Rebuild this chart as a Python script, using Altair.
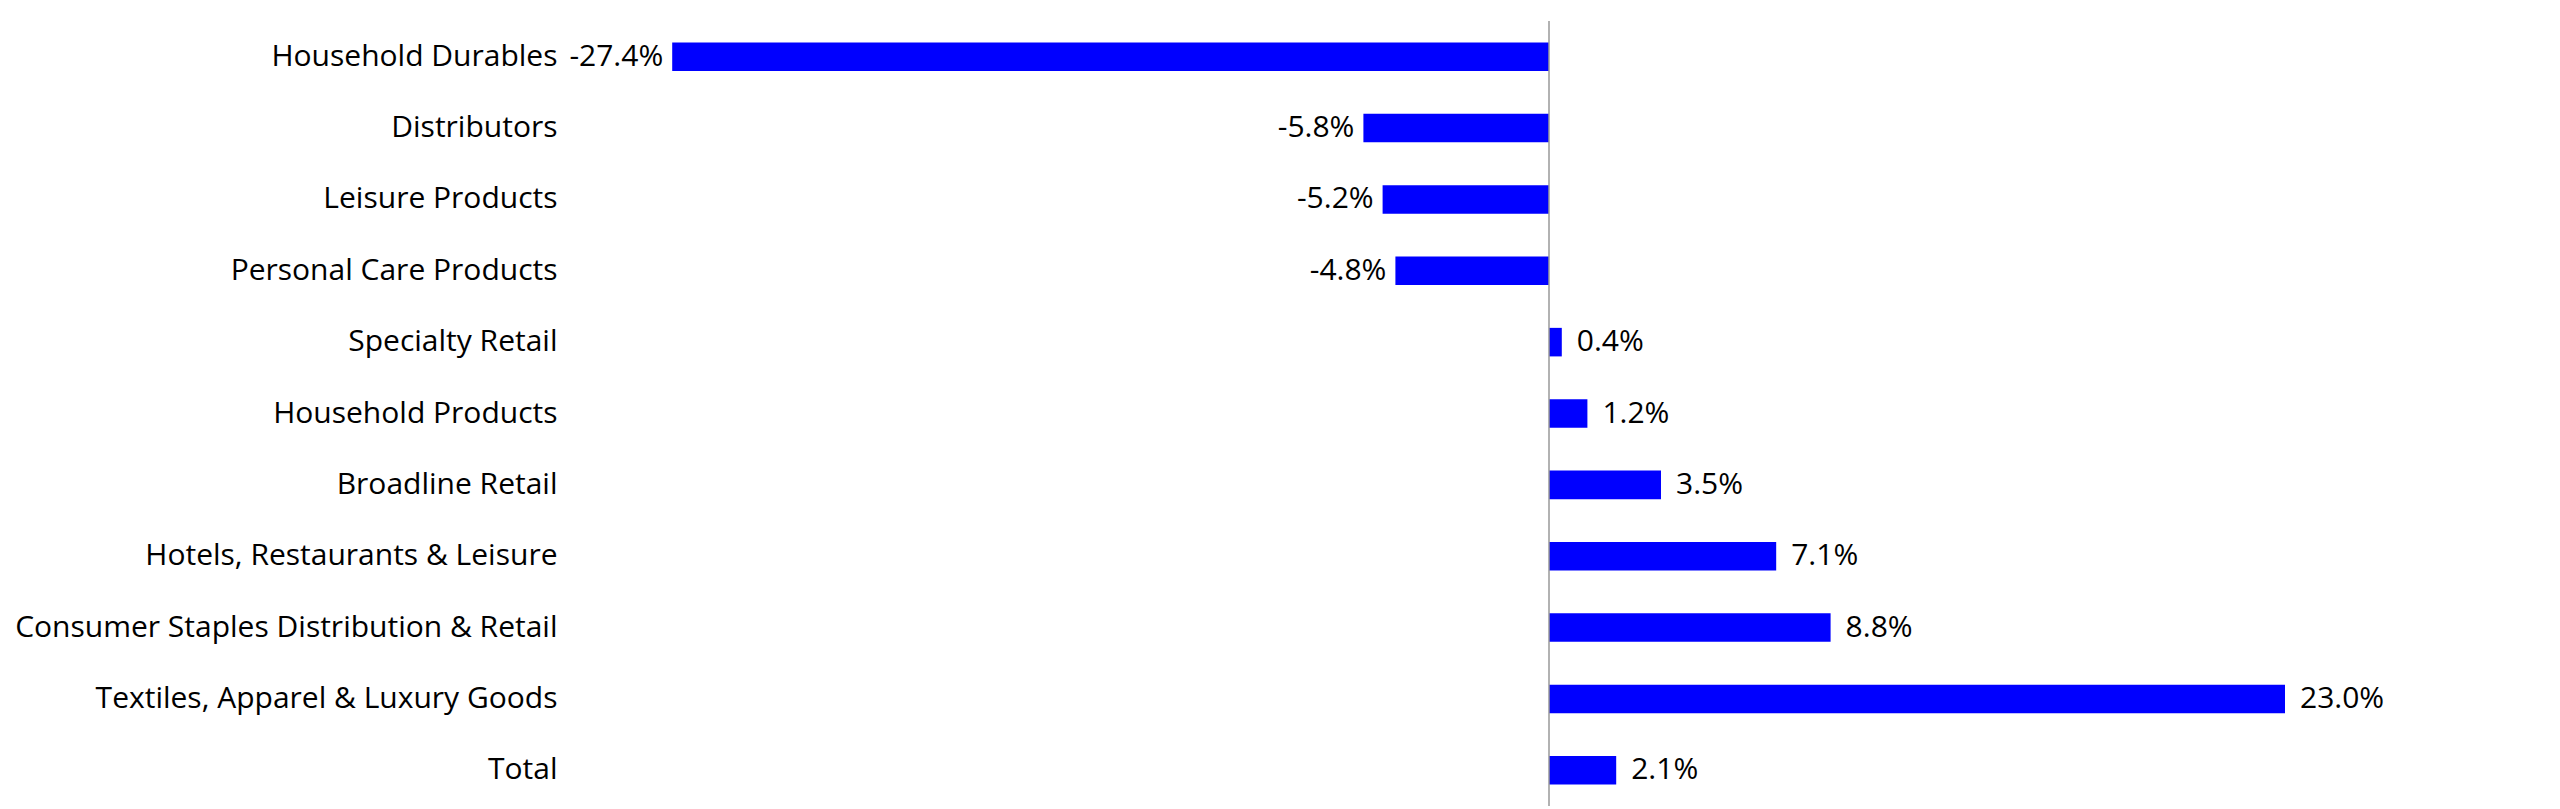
import altair as alt
import pandas as pd

categories = [
    "Household Durables",
    "Distributors",
    "Leisure Products",
    "Personal Care Products",
    "Specialty Retail",
    "Household Products",
    "Broadline Retail",
    "Hotels, Restaurants & Leisure",
    "Consumer Staples Distribution & Retail",
    "Textiles, Apparel & Luxury Goods",
    "Total",
]
values = [-27.4, -5.8, -5.2, -4.8, 0.4, 1.2, 3.5, 7.1, 8.8, 23.0, 2.1]
pos_labels = [f"{v:.1f}%" if v >= 0 else "" for v in values]
neg_labels = [f"{v:.1f}%" if v < 0 else "" for v in values]

df = pd.DataFrame({
    "category": categories,
    "value": values,
    "pos_label": pos_labels,
    "neg_label": neg_labels,
})

FONT = "Open Sans"
FS = 30

y_enc = alt.Y(
    "category:N",
    sort=None,
    title=None,
    scale=alt.Scale(paddingInner=0.6, paddingOuter=0.3),
    axis=alt.Axis(
        ticks=False,
        domain=False,
        labelFont=FONT,
        labelFontSize=FS,
        labelColor="#000000",
        labelPadding=32,
        labelLimit=800,
        grid=False,
    ),
)
x_enc = alt.X(
    "value:Q",
    title=None,
    scale=alt.Scale(domain=[-30, 30], nice=False),
    axis=None,
)

base = alt.Chart(df)

bars = base.mark_bar(color="#0000FF").encode(x=x_enc, y=y_enc)

pos_text = base.mark_text(
    align="left", baseline="middle", dx=15, font=FONT, fontSize=FS, color="#000000"
).encode(x=x_enc, y=y_enc, text="pos_label:N")

neg_text = base.mark_text(
    align="right", baseline="middle", dx=-9, font=FONT, fontSize=FS, color="#000000"
).encode(x=x_enc, y=y_enc, text="neg_label:N")

zero_rule = alt.Chart(pd.DataFrame({"z": [0.0]})).mark_rule(
    color="#999999", strokeWidth=1.5
).encode(x=alt.X("z:Q", scale=alt.Scale(domain=[-30, 30], nice=False), axis=None))

chart = (
    alt.layer(bars, zero_rule, pos_text, neg_text)
    .properties(
        width=1920,
        height=785,
        autosize="none",
        padding={"left": 581, "top": 13, "right": 0, "bottom": 0},
        background="white",
    )
    .configure_view(stroke=None)
)

chart.save("out.html", embed_options={"renderer": "svg", "actions": False})
